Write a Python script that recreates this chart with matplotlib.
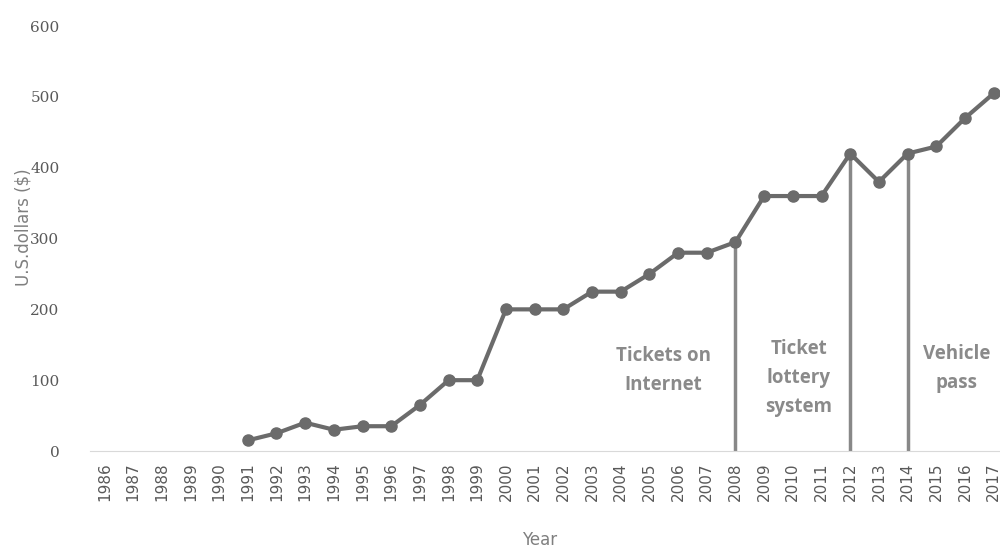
import matplotlib.pyplot as plt
import numpy as np

# Price data per year (no data before 1991)
years = [str(y) for y in range(1986, 2018)]
first_year = 1991
prices = [15, 25, 40, 30, 35, 35, 65, 100, 100, 200, 200, 200, 225, 225,
          250, 280, 280, 295, 360, 360, 360, 420, 380, 420, 430, 470, 505]
events = ['2008', '2012', '2014']
event_labels = ['Tickets on\nInternet', 'Ticket\nlottery\nsystem', 'Vehicle\npass']

x = np.arange(len(years))
start = years.index(str(first_year))
xs = x[start:]

fig = plt.figure(figsize=(10, 5.49), dpi=100)
ax = fig.add_axes([0.09, 0.1785, 0.918, 0.774])

# vertical event lines up to the price in that year
for ev in events:
    i = years.index(ev)
    ax.plot([i, i], [0, prices[i - start]], color='#888888', lw=2.5, zorder=1)

ax.plot(xs, prices, color='#6b6b6b', lw=3, marker='o', markersize=8, zorder=2)

label_pos = [(19.5, 114), (24.2, 103), (29.7, 117)]
for (lx, ly), txt in zip(label_pos, event_labels):
    ax.text(lx, ly, txt, ha='center', va='center', fontsize=13.5, fontweight='bold',
            color='#8a8a8a', family='Open Sans', linespacing=1.6)

ax.set_xlim(-0.5, len(years) - 0.5)
ax.set_ylim(0, 600)
ax.set_yticks(range(0, 601, 100))
ax.set_xticks(x)
ax.set_xticklabels(years, rotation=90, fontsize=11, color='#595959')
for lab in ax.get_yticklabels():
    lab.set_family('DejaVu Serif')
    lab.set_fontsize(11)
    lab.set_color('#595959')
ax.tick_params(length=0, pad=8)
ax.tick_params(axis='y', pad=22)

for s in ['top', 'right', 'left']:
    ax.spines[s].set_visible(False)
ax.spines['bottom'].set_color('#d9d9d9')

ax.set_xlabel('Year', fontsize=12, color='#7f7f7f')
ax.set_ylabel('U.S.dollars ($)', fontsize=12, color='#7f7f7f')
ax.xaxis.set_label_coords((540 - 90) / 918, -0.188)
ax.yaxis.set_label_coords(-0.063, 0.527)

fig.savefig('out.png', dpi=100)
